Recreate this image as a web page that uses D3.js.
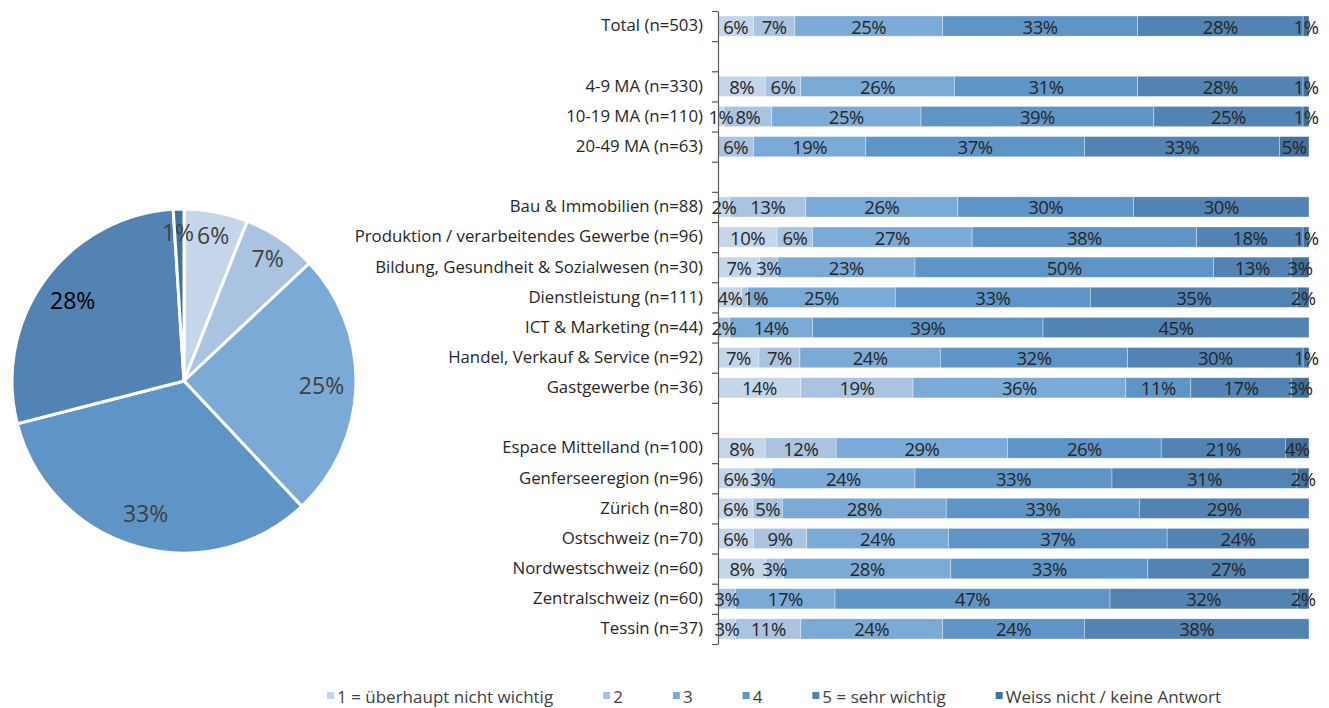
<!DOCTYPE html>
<html>
<head>
<meta charset="utf-8">
<script src="https://cdn.jsdelivr.net/npm/d3@7"></script>
<style>
  html, body { margin: 0; padding: 0; background: #fff; }
  svg { display: block; font-family: "Open Sans", "Noto Sans", sans-serif; }
</style>
</head>
<body>
<svg id="chart" width="1329" height="708"></svg>
<script>
// Row labels of the stacked bars (null = spacer row between groups)
const rowLabels = [
  "Total (n=503)", null,
  "4-9 MA (n=330)", "10-19 MA (n=110)", "20-49 MA (n=63)", null,
  "Bau & Immobilien (n=88)", "Produktion / verarbeitendes Gewerbe (n=96)",
  "Bildung, Gesundheit & Sozialwesen (n=30)", "Dienstleistung (n=111)",
  "ICT & Marketing (n=44)", "Handel, Verkauf & Service (n=92)", "Gastgewerbe (n=36)", null,
  "Espace Mittelland (n=100)", "Genferseeregion (n=96)", "Zürich (n=80)", "Ostschweiz (n=70)",
  "Nordwestschweiz (n=60)", "Zentralschweiz (n=60)", "Tessin (n=37)"
];

// Answer categories
const seriesNames = ["1 = überhaupt nicht wichtig", "2", "3", "4", "5 = sehr wichtig", "Weiss nicht / keine Antwort"];

// Percentages per answer category, one entry per row
const s1 = [6, null, 8, 1, 0, null, 2, 10, 7, 4, 0, 7, 14, null, 8, 6, 6, 6, 8, 0, 3];
const s2 = [7, null, 6, 8, 6, null, 13, 6, 3, 1, 2, 7, 19, null, 12, 3, 5, 9, 3, 3, 11];
const s3 = [25, null, 26, 25, 19, null, 26, 27, 23, 25, 14, 24, 36, null, 29, 24, 28, 24, 28, 17, 24];
const s4 = [33, null, 31, 39, 37, null, 30, 38, 50, 33, 39, 32, 11, null, 26, 33, 33, 37, 33, 47, 24];
const s5 = [28, null, 28, 25, 33, null, 30, 18, 13, 35, 45, 30, 17, null, 21, 31, 29, 24, 27, 32, 38];
const s6 = [1, null, 1, 1, 5, null, 0, 1, 3, 2, 0, 1, 3, null, 4, 2, 0, 0, 0, 2, 0];

// Overall distribution shown in the pie
const pieValues = [6, 7, 25, 33, 28, 1];

const colors = ["#c5d5ea", "#a9c3e1", "#7baad6", "#5f95c6", "#5283b2", "#44719b"];
const pieLabelColors = ["#404040", "#404040", "#404040", "#404040", "#000000", "#404040"];

const svg = d3.select("#chart");
const series = [s1, s2, s3, s4, s5, s6];

// ---- stacked 100% bars ----
const rows = rowLabels.map((label, i) => {
  const vals = series.map(s => s[i]);
  return { key: "r" + i, label, vals };
});

const x = d3.scaleLinear().domain([0, 1]).range([718, 1309]);
const y = d3.scaleBand()
  .domain(rows.map(r => r.key))
  .range([11, 644])
  .paddingInner(0.33)
  .paddingOuter(0.165);

const segs = [];
rows.forEach(r => {
  if (r.label === null) return;
  const total = d3.sum(r.vals);
  let acc = 0;
  r.vals.forEach((v, k) => {
    segs.push({ row: r.key, k, v, x0: acc / total, x1: (acc + v) / total });
    acc += v;
  });
});

const bars = svg.append("g");
bars.selectAll("rect")
  .data(segs.filter(d => d.v > 0))
  .join("rect")
  .attr("x", d => x(d.x0))
  .attr("width", d => x(d.x1) - x(d.x0))
  .attr("y", d => y(d.row))
  .attr("height", y.bandwidth())
  .attr("fill", d => colors[d.k])
  .attr("stroke", "rgba(255,255,255,0.45)")
  .attr("stroke-width", 0.75);

const valueLabels = bars.selectAll("text")
  .data(segs.filter(d => d.v > 0))
  .join("text")
  .attr("x", d => (x(d.x0) + x(d.x1)) / 2)
  .attr("y", d => y(d.row) + y.bandwidth() / 2)
  .attr("text-anchor", "middle")
  .attr("dominant-baseline", "central")
  .attr("font-size", 18.5)
  .attr("letter-spacing", -0.5)
  .attr("fill", "#262626")
  .text(d => d.v + "%");

// nudge value labels to the right where they would run into their left neighbour
d3.groups(valueLabels.nodes(), n => n.__data__.row).forEach(([, nodes]) => {
  let prevRight = -Infinity;
  nodes.forEach(n => {
    const w = n.getComputedTextLength();
    let cxl = +n.getAttribute("x");
    if (cxl - w / 2 < prevRight + 1) {
      cxl = prevRight + 1 + w / 2;
      n.setAttribute("x", cxl);
    }
    prevRight = cxl + w / 2;
  });
});

// category axis: line with ticks on group boundaries
const yb = d3.scaleLinear().domain([0, rows.length]).range([11, 644]);
const axisG = svg.append("g")
  .attr("transform", "translate(718,0)")
  .call(d3.axisLeft(yb).tickValues(d3.range(rows.length + 1)).tickSize(6).tickSizeOuter(0).tickFormat(""));
axisG.select(".domain").attr("stroke", "#595959").attr("stroke-width", 1.2);
axisG.selectAll(".tick line").attr("stroke", "#595959").attr("stroke-width", 1.2);

// row labels
const labelAxis = svg.append("g")
  .attr("transform", "translate(703,0)")
  .call(d3.axisLeft(y).tickSize(0).tickPadding(0).tickFormat(k => rows.find(r => r.key === k).label || ""));
labelAxis.select(".domain").remove();
labelAxis.selectAll("text")
  .attr("font-size", 16.8)
  .attr("font-family", "\"Open Sans\", sans-serif")
  .attr("fill", "#262626");

// ---- pie ----
const cx = 184, cy = 381, R = 172;
const pie = d3.pie().sort(null).value(d => d);
const arc = d3.arc().innerRadius(0).outerRadius(R);
const bigLabelArc = d3.arc().innerRadius(R * 0.8).outerRadius(R * 0.8);
const smallLabelArc = d3.arc().innerRadius(R * 0.865).outerRadius(R * 0.865);
const pg = svg.append("g").attr("transform", `translate(${cx},${cy})`);
const arcs = pie(pieValues);
pg.selectAll("path")
  .data(arcs)
  .join("path")
  .attr("d", arc)
  .attr("fill", (d, i) => colors[i])
  .attr("stroke", "#fff")
  .attr("stroke-width", 3)
  .attr("stroke-linejoin", "round");
const pieLabels = pg.selectAll("text")
  .data(arcs)
  .join("text")
  .attr("x", d => (d.data < 10 ? smallLabelArc : bigLabelArc).centroid(d)[0])
  .attr("y", d => (d.data < 10 ? smallLabelArc : bigLabelArc).centroid(d)[1])
  .attr("text-anchor", "middle")
  .attr("dominant-baseline", "central")
  .attr("font-size", 23)
  .attr("fill", (d, i) => pieLabelColors[i])
  .text(d => d.data + "%");

// spread neighbouring pie labels apart horizontally when they collide
const pn = pieLabels.nodes();
pn.forEach((a, i) => {
  const b = pn[(i + 1) % pn.length];
  const ba = a.getBBox(), bb = b.getBBox();
  const vOverlap = ba.y < bb.y + bb.height && bb.y < ba.y + ba.height;
  const [left, right] = ba.x < bb.x ? [a, b] : [b, a];
  const bl = left.getBBox(), br = right.getBBox();
  const overlap = bl.x + bl.width + 3 - br.x;
  if (vOverlap && overlap > 0) {
    left.setAttribute("x", +left.getAttribute("x") - overlap / 2);
    right.setAttribute("x", +right.getAttribute("x") + overlap / 2);
  }
});

// ---- legend ----
const lg = svg.append("g");
let lx = 327;
seriesNames.forEach((name, i) => {
  lg.append("rect")
    .attr("x", lx).attr("y", 692)
    .attr("width", 7).attr("height", 7)
    .attr("fill", colors[i]);
  const t = lg.append("text")
    .attr("x", lx + 10).attr("y", 696)
    .attr("dominant-baseline", "central")
    .attr("font-size", 17)
    .attr("fill", "#404040")
    .text(name);
  lx += 10 + t.node().getComputedTextLength() + 50;
});
</script>
</body>
</html>
